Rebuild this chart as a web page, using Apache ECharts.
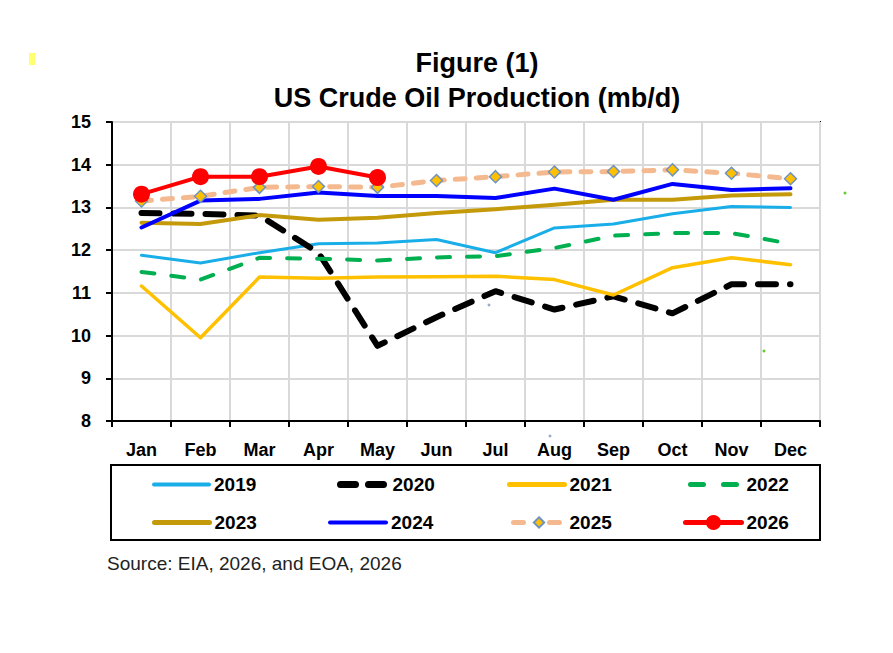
<!DOCTYPE html>
<html>
<head>
<meta charset="utf-8">
<script src="https://cdn.jsdelivr.net/npm/echarts@6/dist/echarts.min.js"></script>
<style>
html,body{margin:0;padding:0;background:#fff;}
#chart{width:893px;height:653px;}
</style>
</head>
<body>
<div id="chart"></div>
<script>
const months = ['Jan','Feb','Mar','Apr','May','Jun','Jul','Aug','Sep','Oct','Nov','Dec'];
const yTicks = [8, 15, 1]; // min, max, interval
const y2019 = [11.88, 11.70, 11.94, 12.15, 12.17, 12.25, 11.94, 12.52, 12.61, 12.85, 13.02, 13.00];
const y2020 = [12.87, 12.85, 12.81, 11.94, 9.76, 10.43, 11.04, 10.61, 10.92, 10.52, 11.20, 11.20];
const y2021 = [11.16, 9.95, 11.37, 11.34, 11.37, 11.38, 11.39, 11.31, 10.95, 11.59, 11.82, 11.66];
const y2022 = [11.49, 11.31, 11.82, 11.80, 11.76, 11.83, 11.86, 12.05, 12.34, 12.40, 12.40, 12.15];
const y2023 = [12.64, 12.61, 12.82, 12.71, 12.76, 12.87, 12.96, 13.06, 13.18, 13.18, 13.28, 13.31];
const y2024 = [12.53, 13.16, 13.20, 13.35, 13.27, 13.27, 13.22, 13.44, 13.18, 13.55, 13.41, 13.45];
const y2025 = [13.15, 13.26, 13.47, 13.49, 13.47, 13.63, 13.72, 13.83, 13.84, 13.88, 13.80, 13.67];
const y2026 = [13.31, 13.72, 13.72, 13.96, 13.70];
const titleLines = ['Figure (1)', 'US Crude Oil Production (mb/d)'];
const sourceText = 'Source: EIA, 2026, and EOA, 2026';

const FONT = '"Liberation Sans", Arial, sans-serif';
const chart = echarts.init(document.getElementById('chart'), null, {renderer: 'svg'});

function lineSeries(name, data, color, width, dash, extra) {
  return Object.assign({
    name: name, type: 'line', data: data, symbol: 'none',
    lineStyle: {color: color, width: width, type: dash || 'solid', cap: 'round', join: 'round'},
    itemStyle: {color: color},
    emphasis: {disabled: true}, animation: false
  }, extra || {});
}

const HIDE = {opacity: 0};
function leg(name, textStart, rowY, w, h, lineStyle, itemStyle) {
  const o = {
    data: [name], left: textStart - 5 - w, top: rowY - 9, itemWidth: w, itemHeight: h,
    padding: 0, selectedMode: false,
    lineStyle: lineStyle,
    textStyle: {fontSize: 19, fontWeight: 'bold', color: '#000', fontFamily: FONT}
  };
  if (itemStyle) o.itemStyle = itemStyle;
  return o;
}

function dot(x, y, color) {
  return {type: 'circle', shape: {cx: x, cy: y, r: 1.5}, style: {fill: color}};
}

const option = {
  backgroundColor: '#fff',
  animation: false,
  grid: {left: 112, top: 122, width: 708, height: 299, show: true, borderColor: '#000', borderWidth: 2, backgroundColor: 'transparent'},
  xAxis: {
    type: 'category', data: months, boundaryGap: true,
    axisLine: {lineStyle: {color: '#000', width: 2}},
    axisTick: {show: true, length: 6, lineStyle: {color: '#000', width: 2}},
    axisLabel: {fontSize: 18, fontWeight: 'bold', color: '#000', fontFamily: FONT, margin: 20},
    splitLine: {show: true, lineStyle: {color: '#d9d9d9', width: 2}}
  },
  yAxis: {
    type: 'value', min: yTicks[0], max: yTicks[1], interval: yTicks[2],
    axisLine: {show: true, lineStyle: {color: '#000', width: 2}},
    axisTick: {show: true, length: 6, lineStyle: {color: '#000', width: 2}},
    axisLabel: {fontSize: 18, fontWeight: 'bold', color: '#000', fontFamily: FONT, margin: 21},
    splitLine: {show: true, lineStyle: {color: '#d9d9d9', width: 2}}
  },
  legend: [
    leg('2019', 212, 484, 55, 14, {color: '#1aaee8', width: 4, type: 'solid', cap: 'round'}, HIDE),
    leg('2020', 389, 484, 47, 14, {color: '#000', width: 7, type: [15, 13], cap: 'round'}, HIDE),
    leg('2021', 567, 484, 55, 14, {color: '#ffc000', width: 5, type: 'solid', cap: 'round'}, HIDE),
    leg('2022', 744, 484, 51, 14, {color: '#00b050', width: 5, type: [13, 20], cap: 'round'}, HIDE),
    leg('2023', 212, 522, 55, 14, {color: '#c49a0a', width: 5, type: 'solid', cap: 'round'}, HIDE),
    leg('2024', 389, 522, 56, 14, {color: '#0000ff', width: 4, type: 'solid', cap: 'round'}, HIDE),
    leg('2025', 567, 522, 51, 13, {color: '#f4b98e', width: 5, type: [10, 26], cap: 'round'}),
    leg('2026', 744, 522, 56, 19, {color: '#ff0000', width: 5, type: 'solid', cap: 'round'})
  ],
  graphic: [
    {type: 'text', style: {text: titleLines[0], x: 477, y: 63, textAlign: 'center', textVerticalAlign: 'middle', font: 'bold 27px ' + FONT, fill: '#000'}},
    {type: 'text', style: {text: titleLines[1], x: 477, y: 98, textAlign: 'center', textVerticalAlign: 'middle', font: 'bold 27px ' + FONT, fill: '#000'}},
    {type: 'rect', shape: {x: 111, y: 465, width: 709, height: 75}, style: {fill: 'none', stroke: '#000', lineWidth: 2}, z: 0},
    {type: 'text', style: {text: sourceText, x: 107, y: 563, textAlign: 'left', textVerticalAlign: 'middle', font: '19px ' + FONT, fill: '#222'}},
    {type: 'rect', shape: {x: 29, y: 53, width: 6, height: 12}, style: {fill: '#ffff70'}},
    dot(845, 193, '#66cc33'),
    dot(764, 351, '#66cc33'),
    dot(489, 305, '#9aaecc'),
    dot(550, 436, '#9aaecc')
  ],
  series: [
    lineSeries('2019', y2019, '#1aaee8', 3),
    lineSeries('2020', y2020, '#000000', 6, [18, 14]),
    lineSeries('2021', y2021, '#ffc000', 3.5),
    lineSeries('2022', y2022, '#00b050', 4, [13, 17]),
    lineSeries('2023', y2023, '#c49a0a', 4),
    lineSeries('2024', y2024, '#0000ff', 4),
    lineSeries('2025', y2025, '#f4b98e', 5, [10, 11], {
      symbol: 'diamond', symbolSize: 12, showSymbol: true,
      itemStyle: {color: '#ffc000', borderColor: '#6f93c0', borderWidth: 1.5}
    }),
    lineSeries('2026', y2026, '#ff0000', 4, 'solid', {
      symbol: 'circle', symbolSize: 17, showSymbol: true,
      itemStyle: {color: '#ff0000'}
    })
  ]
};
chart.setOption(option);
</script>
</body>
</html>
